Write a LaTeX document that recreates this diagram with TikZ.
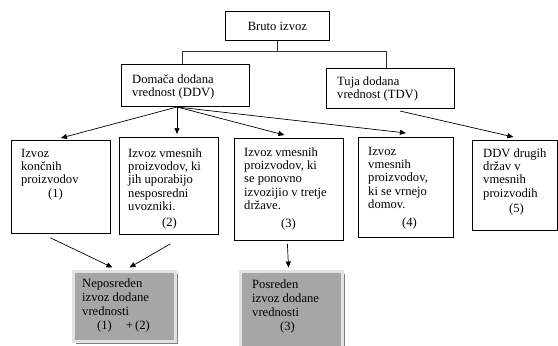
\documentclass[tikz,border=0pt]{standalone}
\usepackage{fontspec}
\setmainfont{Liberation Serif}
\usetikzlibrary{arrows.meta,shadows}
\definecolor{boxgray}{RGB}{166,166,166}
\definecolor{framegray}{RGB}{226,226,226}
\definecolor{shadowgray}{RGB}{125,125,125}
\newcommand{\txtlines}[1]{\begin{tabular}[t]{@{}l@{}}#1\end{tabular}}
\begin{document}
\begin{tikzpicture}[x=1pt,y=-1pt,font=\fontsize{12.6}{13.4}\selectfont,
  box/.style={draw, line width=0.8pt, inner sep=0pt, anchor=north west},
  txt/.style={anchor=base west, inner sep=0pt},
  gbox/.style={anchor=north west, fill=boxgray, draw=framegray, line width=3pt, inner sep=0pt,
    general shadow={shadow xshift=2.5pt, shadow yshift=-2.5pt, fill=shadowgray, opacity=1}},
  arr/.style={-{Triangle[length=6pt,width=5pt]}, line width=0.7pt},
  conn/.style={line width=0.8pt, draw=black!80}]
\useasboundingbox (0,0) rectangle (558,346);
\fill[white] (0,0) rectangle (558,346);

% top
\node[box, minimum width=104pt, minimum height=29pt] (bruto) at (225,11) {Bruto izvoz};
\node[box, minimum width=128pt, minimum height=42pt] (ddv) at (121,64) {};
\node[txt] (ddvt) at (132,83) {\txtlines{Domača dodana\\vrednost (DDV)}};
\node[box, minimum width=128pt, minimum height=40pt] (tdv) at (326,68) {};
\node[txt] (tdvt) at (337,85) {\txtlines{Tuja dodana\\vrednost (TDV)}};

\coordinate (hl) at (182,51);
\coordinate (hr) at (386,51);
\draw[conn] (bruto.south) -- (bruto.south |- hl);
\draw[conn] (hl) -- (hr);
\draw[conn] (hl) -- (hl |- ddv.north);
\draw[conn] (hr) -- (hr |- tdv.north);

% middle row
\node[box, minimum width=99pt, minimum height=93pt] (b1) at (11,140) {};
\node[txt] (b1t) at (21,157) {\txtlines{Izvoz\\končnih\\proizvodov\\\hspace*{27pt}(1)}};
\node[box, minimum width=99pt, minimum height=97pt] (b2) at (119,137) {};
\node[txt] (b2t) at (128,157) {\txtlines{Izvoz vmesnih\\proizvodov, ki\\jih uporabijo\\nesposredni\\uvozniki.\\[2.5pt]\hspace*{34pt}(2)}};
\node[box, minimum width=109pt, minimum height=102pt] (b3) at (234,138) {};
\node[txt] (b3t) at (244,156) {\txtlines{Izvoz vmesnih\\proizvodov, ki\\se ponovno\\izvozijio v tretje\\države.\\[4pt]\hspace*{37pt}(3)}};
\node[box, minimum width=95pt, minimum height=100pt] (b4) at (358,137) {};
\node[txt] (b4t) at (368,155) {\txtlines{Izvoz\\vmesnih\\proizvodov,\\ki se vrnejo\\domov.\\[4pt]\hspace*{34pt}(4)}};
\node[box, minimum width=85pt, minimum height=90pt] (b5) at (472,140) {};
\node[txt] (b5t) at (483,157) {\txtlines{DDV drugih\\držav v\\vmesnih\\proizvodih\\[2pt]\hspace*{26pt}(5)}};

% bottom
\node[gbox, minimum width=102pt, minimum height=70pt] (nep) at (71.5,269.5) {};
\node[txt] (nept) at (82,287) {\txtlines{Neposreden\\[0.6pt]izvoz dodane\\[0.6pt]vrednosti\\[0.6pt]\hspace*{15pt}(1)\hspace*{14pt}+\,(2)}};
\node[gbox, minimum width=102pt, minimum height=80pt] (pos) at (238.5,269.5) {};
\node[txt] (post) at (252,288) {\txtlines{Posreden\\[0.6pt]izvoz dodane\\[0.6pt]vrednosti\\[0.6pt]\hspace*{28pt}(3)}};

% arrows
\coordinate (ddvo) at (177,107);
\coordinate (tdvo) at (400,111);
\draw[arr] (ddvo) -- ([yshift=2pt]b1.north);
\draw[arr, shorten >=3pt] (ddvo) -- (ddvo |- b2.north);
\draw[arr] (ddvo) -- ([xshift=-4.5pt,yshift=3pt]b3.north);
\draw[arr] (ddvo) -- ([yshift=4pt]b4.north);
\draw[arr] (tdvo) -- ([xshift=-1.5pt,yshift=3pt]b5.north);
\draw[arr] ([xshift=-10.5pt,yshift=-4pt]b1.south) -- ([xshift=-11.5pt,yshift=2pt]nep.north);
\draw[arr] ([xshift=1.5pt,yshift=-9pt]b2.south) -- ([xshift=5.5pt,yshift=2pt]nep.north);
\draw[arr] ([xshift=-1.5pt,yshift=-3pt]b3.south) -- ([xshift=-2.5pt,yshift=2pt]pos.north);
\end{tikzpicture}
\end{document}
